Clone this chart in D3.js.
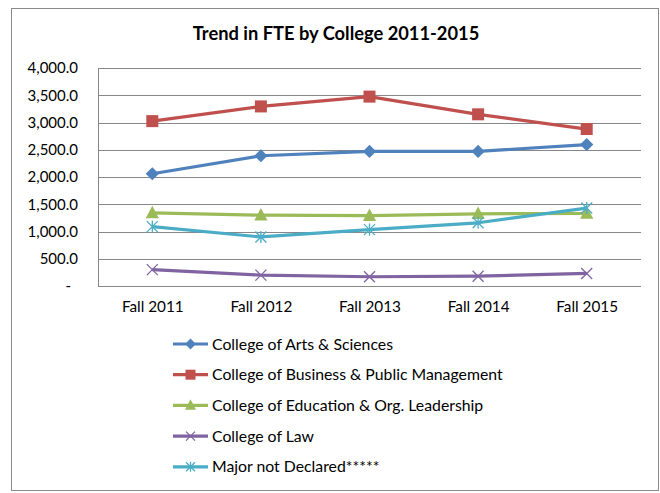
<!DOCTYPE html>
<html>
<head>
<meta charset="utf-8">
<script src="https://cdn.jsdelivr.net/npm/d3@7/dist/d3.min.js"></script>
<style>
  html, body { margin: 0; padding: 0; background: #ffffff; }
  svg { display: block; }
  text { font-family: Lato, "Open Sans", sans-serif; fill: #000; }
</style>
</head>
<body>
<svg id="chart" width="660" height="493"></svg>
<script>
const categories = ["Fall 2011", "Fall 2012", "Fall 2013", "Fall 2014", "Fall 2015"];
const seriesNames = [
  "College of Arts & Sciences",
  "College of Business & Public Management",
  "College of Education & Org. Leadership",
  "College of Law",
  "Major not Declared*****"
];
const artsValues = [2060, 2390, 2470, 2470, 2595];
const businessValues = [3025, 3295, 3475, 3150, 2880];
const educationValues = [1340, 1300, 1290, 1325, 1330];
const lawValues = [300, 200, 170, 180, 230];
const undeclaredValues = [1090, 900, 1035, 1160, 1430];
const yTicks = [0, 500, 1000, 1500, 2000, 2500, 3000, 3500, 4000];

const seriesValues = [artsValues, businessValues, educationValues, lawValues, undeclaredValues];
const colors = ["#4F81BD", "#C0504D", "#9BBB59", "#8064A2", "#4BACC6"];
const markers = ["diamond", "square", "triangle", "x", "asterisk"];

const svg = d3.select("#chart");

// outer chart border
svg.append("rect")
  .attr("x", 11.5).attr("y", 8.5)
  .attr("width", 647).attr("height", 482)
  .attr("fill", "#fff").attr("stroke", "#8a8a8a").attr("stroke-width", 1);

// title
svg.append("text")
  .attr("x", 336).attr("y", 39.5)
  .attr("text-anchor", "middle")
  .style("font-size", "18.3px").style("font-weight", "bold")
  .text("Trend in FTE by College 2011-2015");

const plotL = 98, plotR = 641, plotT = 68, plotB = 286;
const x = d3.scalePoint().domain(categories).range([plotL, plotR]).padding(0.5);
const y = d3.scaleLinear().domain([0, 4000]).range([plotB, plotT]);

// gridlines
svg.append("g").selectAll("line").data(yTicks).join("line")
  .attr("x1", plotL).attr("x2", plotR)
  .attr("y1", d => Math.round(y(d)) + 0.5).attr("y2", d => Math.round(y(d)) + 0.5)
  .attr("stroke", "#878787").attr("stroke-width", 1);

// y axis (labels only, via d3 axis)
const fmt = d3.format(",.1f");
const yAxis = d3.axisLeft(y).tickValues(yTicks).tickSize(0).tickPadding(0)
  .tickFormat(d => d === 0 ? "-" : fmt(d));
const gy = svg.append("g").attr("transform", `translate(${plotL - 20},0)`).call(yAxis);
gy.select(".domain").remove();
gy.selectAll("text").style("font-size", "15px").style("font-family", "Lato, sans-serif").attr("fill", "#000");
gy.selectAll(".tick").filter(d => d === 0).select("text").attr("dx", -7);

// vertical axis line
svg.append("line")
  .attr("x1", plotL + 0.5).attr("x2", plotL + 0.5)
  .attr("y1", plotT).attr("y2", plotB + 1)
  .attr("stroke", "#878787").attr("stroke-width", 1);

// x axis
const xAxis = d3.axisBottom(x).tickSize(0).tickPadding(0);
const gx = svg.append("g").attr("transform", `translate(0,${plotB})`).call(xAxis);
gx.select(".domain").remove();
gx.selectAll("text").style("font-size", "15.3px").style("font-family", "Lato, sans-serif")
  .attr("fill", "#000").attr("dy", "0").attr("y", 26);

function drawMarker(g, type, cx, cy, color, s) {
  if (type === "diamond") {
    const r = s * 0.6;
    g.append("path").attr("d", `M${cx},${cy - r}L${cx + r},${cy}L${cx},${cy + r}L${cx - r},${cy}Z`).attr("fill", color);
  } else if (type === "square") {
    const r = s * 0.5;
    g.append("rect").attr("x", cx - r).attr("y", cy - r).attr("width", 2 * r).attr("height", 2 * r).attr("fill", color);
  } else if (type === "triangle") {
    const r = s * 0.55;
    g.append("path").attr("d", `M${cx},${cy - r * 1.1}L${cx + r},${cy + r * 0.8}L${cx - r},${cy + r * 0.8}Z`).attr("fill", color);
  } else if (type === "x") {
    const r = s * 0.5;
    g.append("path").attr("d", `M${cx - r},${cy - r}L${cx + r},${cy + r}M${cx - r},${cy + r}L${cx + r},${cy - r}`)
      .attr("stroke", color).attr("stroke-width", 1.3).attr("fill", "none");
  } else if (type === "asterisk") {
    const r = s * 0.5;
    g.append("path").attr("d", `M${cx - r},${cy - r}L${cx + r},${cy + r}M${cx - r},${cy + r}L${cx + r},${cy - r}M${cx},${cy - r * 1.1}L${cx},${cy + r * 1.1}`)
      .attr("stroke", color).attr("stroke-width", 1.3).attr("fill", "none");
  }
}

const line = d3.line().x((d, i) => x(categories[i])).y(d => y(d));

const markerSizes = [11, 12, 12, 11, 11];
seriesValues.forEach((vals, si) => {
  const g = svg.append("g");
  g.append("path").datum(vals).attr("d", line)
    .attr("fill", "none").attr("stroke", colors[si]).attr("stroke-width", 3.2)
    .attr("stroke-linejoin", "round");
  vals.forEach((v, i) => drawMarker(g, markers[si], x(categories[i]), y(v), colors[si], markerSizes[si]));
});

// legend
const legendX = 173, legendY0 = 344, legendStep = 30.7;
const legendSizes = [9, 10, 10, 9, 9];
seriesNames.forEach((name, si) => {
  const g = svg.append("g");
  const ly = legendY0 + si * legendStep;
  g.append("line").attr("x1", legendX).attr("x2", legendX + 35).attr("y1", ly).attr("y2", ly)
    .attr("stroke", colors[si]).attr("stroke-width", 3.2);
  drawMarker(g, markers[si], legendX + 17.5, ly, colors[si], legendSizes[si]);
  g.append("text").attr("x", legendX + 39).attr("y", ly + 5.5)
    .style("font-size", "15.8px").text(name);
});
</script>
</body>
</html>
